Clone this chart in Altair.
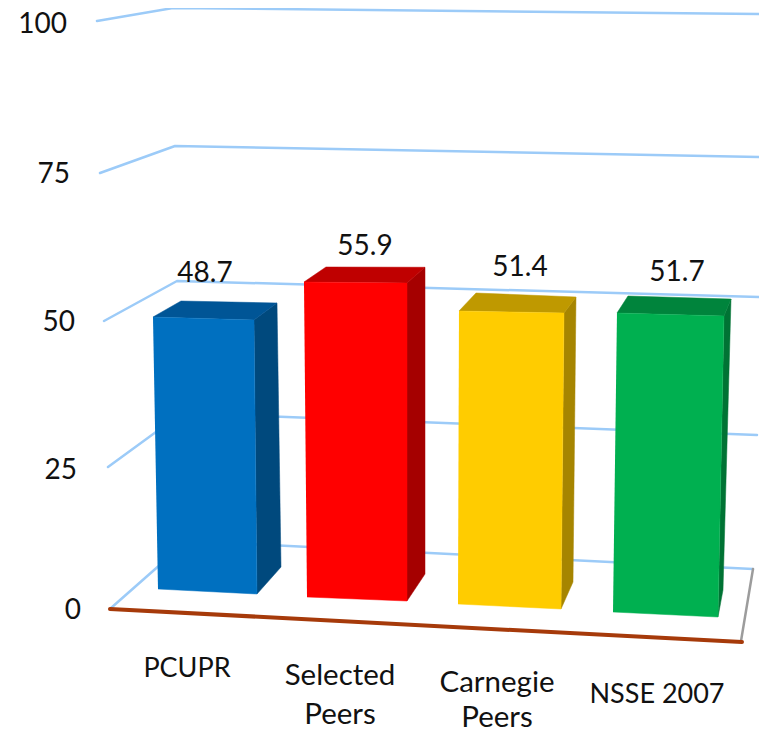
import altair as alt
import pandas as pd

FONT = "Lato"
NUM_SIZE = 28
CAT_SIZE = [27, 29.5, 29.5, 27]

# chart values
categories = ["PCUPR", "Selected\nPeers", "Carnegie\nPeers", "NSSE 2007"]
values = [48.7, 55.9, 51.4, 51.7]
ticks = [0, 25, 50, 75, 100]

# colours: front, top, side
front = ["#0070C0", "#FF0000", "#FFCC00", "#00B050"]
top = ["#005596", "#BF0000", "#BF9900", "#00843C"]
side = ["#00497D", "#A50000", "#A68500", "#007334"]

# perspective: pixel place of the floor corners of each bar
base_fl = [(158, 589), (307, 597), (458, 604), (613, 612)]
base_fr = [(257, 594), (407, 601), (561, 609), (718, 617)]
base_br = [(281, 567), (425, 574), (573, 582), (723, 590)]
# pixels moved per unit of value at each of these corners
rise_fl = [(-0.103, 5.585), (-0.054, 5.635), (0.019, 5.70), (0.077, 5.783)]
rise_fr = [(-0.062, 5.626), (0.0, 5.687), (0.058, 5.759), (0.116, 5.822)]
rise_br = [(-0.082, 5.421), (0.0, 5.487), (0.058, 5.545), (0.155, 5.628)]
# depth of the top face
depth_l = [(28, -16), (22, -15), (17, -18), (11, -17)]

# perspective of the grid, per tick: front-left, back-left, back-right
grid_fl = [(111, 608), (108, 467), (104, 321), (100, 173), (97, 21)]
grid_bl = [(187, 541), (182, 413), (177, 281), (175, 146), (173, 8)]
grid_br = [(753, 569), (757, 435), (760, 297), (765, 157), (767, 14)]
floor_front = [(110, 609), (742, 642)]
floor_right = [(753, 569), (741, 641)]

tick_anchor = [(81, 619), (77, 479), (75, 331), (70, 183), (67, 33)]
value_anchor = [(205, 282), (365, 255), (520, 276), (677, 281)]
cat_anchor = [(187, 677), (340, 685), (497, 692), (657, 703)]
line_gap = [39, 39, 35, 39]


def at(base, rise, v):
    return (base[0] + rise[0] * v, base[1] - rise[1] * v)


faces, rules, texts = [], [], []


def add_face(name, colour, pts):
    for i, (x, y) in enumerate(pts):
        faces.append(dict(face=name, i=i, x=x, y=y, colour=colour))


def add_rule(name, colour, pts, w):
    for i, (x, y) in enumerate(pts):
        rules.append(dict(rule=name, i=i, x=x, y=y, colour=colour, w=w))


for k, t in enumerate(ticks):
    add_rule(f"g{t}", "#9CCBF8", [grid_fl[k], grid_bl[k], grid_br[k]], 2.5)
    texts.append(dict(x=tick_anchor[k][0], y=tick_anchor[k][1], t=str(t), a="right", s=NUM_SIZE))
add_rule("right", "#9C9C9C", floor_right, 2.5)
add_rule("front", "#A63A0A", floor_front, 4)

for b, v in enumerate(values):
    ftl = at(base_fl[b], rise_fl[b], v)
    ftr = at(base_fr[b], rise_fr[b], v)
    btr = at(base_br[b], rise_br[b], v)
    btl = (ftl[0] + depth_l[b][0], ftl[1] + depth_l[b][1])
    add_face(f"s{b}", side[b], [ftr, btr, base_br[b], base_fr[b]])
    add_face(f"t{b}", top[b], [ftl, btl, btr, ftr])
    add_face(f"f{b}", front[b], [ftl, ftr, base_fr[b], base_fl[b]])
    texts.append(dict(x=value_anchor[b][0], y=value_anchor[b][1], t=f"{v:.1f}", a="center", s=NUM_SIZE))
    for n, part in enumerate(categories[b].split("\n")):
        texts.append(dict(x=cat_anchor[b][0], y=cat_anchor[b][1] + n * line_gap[b], t=part, a="center", s=CAT_SIZE[b]))

W, H = 751, 721
X = alt.X("x:Q", scale=alt.Scale(domain=[8, 8 + W], nice=False, zero=False), axis=None)
Y = alt.Y("y:Q", scale=alt.Scale(domain=[8 + H, 8], nice=False, zero=False), axis=None)

rule_layer = alt.Chart(pd.DataFrame(rules)).mark_line(strokeCap="round", strokeJoin="round", clip=False).encode(
    x=X, y=Y, order="i:Q", detail="rule:N",
    color=alt.Color("colour:N", scale=None),
    strokeWidth=alt.StrokeWidth("w:Q", scale=None),
)
face_layer = alt.Chart(pd.DataFrame(faces)).mark_line(strokeWidth=0.5, strokeJoin="miter", clip=False).encode(
    x=X, y=Y, order="i:Q", detail="face:N",
    fill=alt.Fill("colour:N", scale=None),
    stroke=alt.Stroke("colour:N", scale=None),
)
tdf = pd.DataFrame(texts)


def text_layer(a):
    return alt.Chart(tdf[tdf.a == a]).mark_text(
        font=FONT, align=a, baseline="alphabetic", color="#111111"
    ).encode(x=X, y=Y, text="t:N", size=alt.Size("s:Q", scale=None))


chart = alt.layer(rule_layer, face_layer, text_layer("right"), text_layer("center")).properties(
    width=W, height=H, padding=0, autosize=alt.AutoSizeParams(type="none"), background="white",
).configure_view(stroke=None)

chart.save("out.html", embed_options={"renderer": "svg", "actions": False})
